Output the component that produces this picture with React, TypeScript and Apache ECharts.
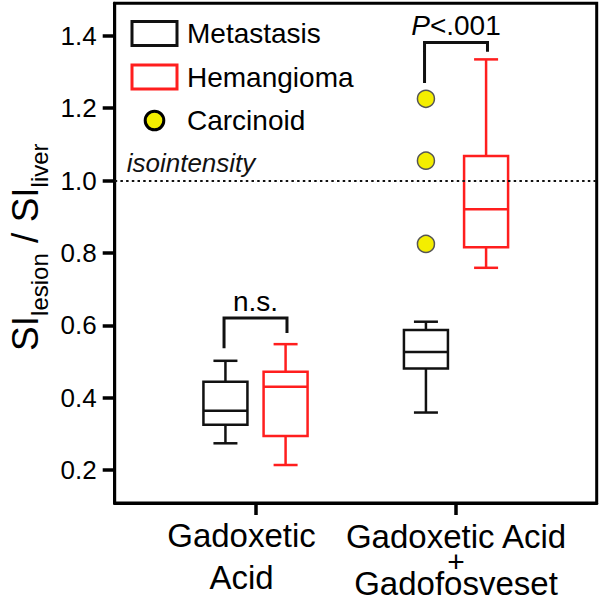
import React, { useEffect, useRef } from 'react';
import * as echarts from 'echarts';

// ---- data ----
const categories = ['Gadoxetic\nAcid', 'Gadoxetic Acid\n+\nGadofosveset'];
const categoryValues = [1, 2];
const seriesNames = ['Metastasis', 'Hemangioma', 'Carcinoid'];
// [low whisker, Q1, median, Q3, high whisker] per category
const metastasisStats = [
  [0.274, 0.325, 0.364, 0.444, 0.502],
  [0.359, 0.481, 0.526, 0.587, 0.61],
];
const hemangiomaStats = [
  [0.214, 0.294, 0.43, 0.472, 0.548],
  [0.759, 0.816, 0.921, 1.068, 1.335],
];
const carcinoidCategory = 2;
const carcinoidValues = [1.226, 1.055, 0.825];
const isointensityValue = 1.0;
const yTicks = [0.2, 0.4, 0.6, 0.8, 1.0, 1.2, 1.4];
const bracketCategories = [1, 2];
const bracketTops = [0.62, 1.382];
const bracketLeftEnds = [0.537, 1.27];
const bracketRightEnds = [0.579, 1.356];
const bracketLabels = ['n.s.', '{i|P}<.001'];

// ---- layout / style constants ----
const FONT = "'Liberation Sans', Arial, Helvetica, sans-serif";
const BLACK = '#111';
const RED = '#ff1e1e';
const YELLOW = '#f4ee00';
const GROUP_OFFSET = 0.15;
const BRACKET_HALF = 0.157;
const BOX_W = 44;
const CAP_W = 24;
const LABEL_STYLES = [['a', 'a'], ['b', 'p', 'c']];

function boxRenderer(offset: number, color: string) {
  return (params: any, api: any) => {
    const x = api.value(0) + offset;
    const low = api.coord([x, api.value(1)]);
    const q1 = api.coord([x, api.value(2)]);
    const med = api.coord([x, api.value(3)]);
    const q3 = api.coord([x, api.value(4)]);
    const high = api.coord([x, api.value(5)]);
    const cx = low[0];
    const hw = BOX_W / 2;
    const cw = CAP_W / 2;
    const style = { stroke: color, lineWidth: 2.5, fill: 'none' };
    return {
      type: 'group',
      children: [
        { type: 'rect', shape: { x: cx - hw, y: q3[1], width: hw * 2, height: q1[1] - q3[1] }, style },
        { type: 'line', shape: { x1: cx - hw, y1: med[1], x2: cx + hw, y2: med[1] }, style },
        { type: 'line', shape: { x1: cx, y1: q3[1], x2: cx, y2: high[1] }, style },
        { type: 'line', shape: { x1: cx - cw, y1: high[1], x2: cx + cw, y2: high[1] }, style },
        { type: 'line', shape: { x1: cx, y1: q1[1], x2: cx, y2: low[1] }, style },
        { type: 'line', shape: { x1: cx - cw, y1: low[1], x2: cx + cw, y2: low[1] }, style },
      ],
    };
  };
}

function bracketRenderer(params: any, api: any) {
  const g = api.value(0);
  const tl = api.coord([g - BRACKET_HALF, api.value(1)]);
  const tr = api.coord([g + BRACKET_HALF, api.value(1)]);
  const le = api.coord([g - BRACKET_HALF, api.value(2)]);
  const re = api.coord([g + BRACKET_HALF, api.value(3)]);
  return {
    type: 'group',
    children: [
      {
        type: 'polyline',
        shape: { points: [le, tl, tr, re] },
        style: { stroke: BLACK, lineWidth: 3, fill: 'none', lineJoin: 'miter' },
      },
      {
        type: 'text',
        style: {
          x: (tl[0] + tr[0]) / 2,
          y: tl[1] - 3,
          text: bracketLabels[params.dataIndex],
          align: 'center',
          verticalAlign: 'bottom',
          fill: '#000',
          fontSize: 28,
          fontFamily: FONT,
          rich: { i: { fontStyle: 'italic', fontSize: 28, fontFamily: FONT, fill: '#000' } },
        },
      },
    ],
  };
}

export default function App() {
  const ref = useRef<HTMLDivElement>(null);

  useEffect(() => {
    document.body.style.margin = '0';
    if (!ref.current) return;
    const chart = echarts.init(ref.current, null, { renderer: 'svg' });

    const metData = metastasisStats.map((s, i) => [categoryValues[i], ...s]);
    const hemData = hemangiomaStats.map((s, i) => [categoryValues[i], ...s]);
    const carData = carcinoidValues.map((v) => [carcinoidCategory - GROUP_OFFSET, v]);
    const bracketData = bracketCategories.map((c, i) => [c, bracketTops[i], bracketLeftEnds[i], bracketRightEnds[i]]);

    chart.setOption({
      animation: false,
      textStyle: { fontFamily: FONT, color: '#000' },
      grid: {
        left: 114.7,
        right: 3.3,
        top: 3.3,
        bottom: 93,
        show: true,
        borderColor: '#000',
        borderWidth: 3,
        backgroundColor: 'transparent',
        containLabel: false,
        outerBoundsMode: 'none',
      },
      legend: {
        orient: 'vertical',
        left: 130.5,
        top: 19.5,
        padding: 0,
        itemWidth: 45,
        itemHeight: 24,
        itemGap: 15.5,
        selectedMode: false,
        textStyle: { fontSize: 28, color: '#000', fontFamily: FONT, lineHeight: 24, padding: [0, 0, 0, 5] },
        data: [
          { name: seriesNames[0], icon: 'rect', itemStyle: { color: 'rgba(0,0,0,0)', borderColor: BLACK, borderWidth: 3 } },
          { name: seriesNames[1], icon: 'rect', itemStyle: { color: 'rgba(0,0,0,0)', borderColor: RED, borderWidth: 3 } },
          {
            name: seriesNames[2],
            icon: 'path://M0,0M45,24M13.2,12a9.3,9.3 0 1,0 18.6,0a9.3,9.3 0 1,0 -18.6,0Z',
            itemStyle: { color: YELLOW, borderColor: '#000', borderWidth: 3 },
          },
        ],
      },
      xAxis: {
        type: 'value',
        min: 0.2977,
        max: 2.7017,
        splitLine: { show: false },
        axisLine: { show: true, lineStyle: { color: '#000', width: 3 } },
        axisTick: { show: true, customValues: categoryValues, length: 12, lineStyle: { color: '#000', width: 3.5 } },
        axisLabel: {
          show: true,
          customValues: categoryValues,
          hideOverlap: false,
          margin: 11,
          color: '#000',
          fontSize: 33,
          fontFamily: FONT,
          formatter: (v: number) => {
            const idx = categoryValues.indexOf(Math.round(v));
            if (idx < 0) return '';
            const lines = categories[idx].split('\n');
            return lines.map((l, j) => `{${LABEL_STYLES[idx][j]}|${l}}`).join('\n');
          },
          rich: {
            a: { fontSize: 33, lineHeight: 42, padding: [0, 28, 0, 0], fontFamily: FONT, color: '#000' },
            b: { fontSize: 33, lineHeight: 44, fontFamily: FONT, color: '#000' },
            p: { fontSize: 30, lineHeight: 6, fontFamily: FONT, color: '#000' },
            c: { fontSize: 33, lineHeight: 38, fontFamily: FONT, color: '#000' },
          },
        },
      },
      yAxis: {
        type: 'value',
        min: 0.109,
        max: 1.49,
        splitLine: { show: false },
        axisLine: { show: true, lineStyle: { color: '#000', width: 3 } },
        axisTick: { show: true, customValues: yTicks, length: 12, lineStyle: { color: '#000', width: 3.5 } },
        axisLabel: {
          show: true,
          customValues: yTicks,
          margin: 18,
          color: '#000',
          fontSize: 26,
          fontFamily: FONT,
          formatter: (v: number) => v.toFixed(1),
        },
        name: '{m|SI}{s|lesion}{m| / SI}{s|liver}',
        nameLocation: 'middle',
        nameRotate: 90,
        nameGap: 77.5,
        nameMoveOverlap: false,
        nameTextStyle: {
          color: '#000',
          fontFamily: FONT,
          padding: [0, 0, 0, 12],
          rich: {
            m: { fontSize: 37, lineHeight: 30, verticalAlign: 'top', fontFamily: FONT, color: '#000' },
            s: { fontSize: 24, lineHeight: 24, verticalAlign: 'top', padding: [20, 0, 0, 0], fontFamily: FONT, color: '#000' },
          },
        },
      },
      series: [
        {
          name: seriesNames[0],
          type: 'custom',
          silent: true,
          itemStyle: { color: BLACK },
          encode: { x: 0, y: [1, 2, 3, 4, 5] },
          renderItem: boxRenderer(-GROUP_OFFSET, BLACK),
          data: metData,
        },
        {
          name: seriesNames[1],
          type: 'custom',
          silent: true,
          itemStyle: { color: RED },
          encode: { x: 0, y: [1, 2, 3, 4, 5] },
          renderItem: boxRenderer(GROUP_OFFSET, RED),
          data: hemData,
        },
        {
          name: seriesNames[2],
          type: 'scatter',
          silent: true,
          symbol: 'circle',
          symbolSize: 17,
          itemStyle: { color: YELLOW, borderColor: '#555', borderWidth: 1.5, opacity: 1 },
          data: carData,
          markLine: {
            silent: true,
            symbol: ['none', 'none'],
            data: [{ yAxis: isointensityValue }],
            lineStyle: { color: BLACK, width: 2, type: [2.5, 3.2] },
            label: {
              show: true,
              position: 'insideStartTop',
              formatter: 'isointensity',
              fontStyle: 'italic',
              fontSize: 26,
              fontFamily: FONT,
              color: BLACK,
              distance: [12, 5],
            },
            emphasis: { disabled: true },
          },
        },
        {
          name: 'brackets',
          type: 'custom',
          silent: true,
          encode: { x: 0, y: [1, 2, 3] },
          renderItem: bracketRenderer,
          data: bracketData,
        },
      ],
    });

    return () => chart.dispose();
  }, []);

  return <div ref={ref} style={{ width: 600, height: 596 }} />;
}
